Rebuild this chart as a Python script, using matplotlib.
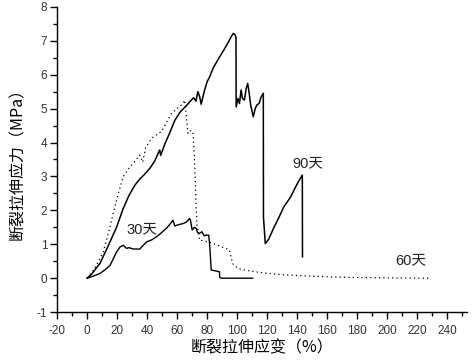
import matplotlib
matplotlib.use("Agg")
import matplotlib.pyplot as plt
from matplotlib.ticker import MultipleLocator

plt.rcParams["axes.unicode_minus"] = False

# 90 days (solid, thick)
d90_x = [0, 3, 8.6, 14, 19.7, 24, 28, 31.8, 35, 38, 41.8, 45, 47.5, 48.4, 49, 52, 55, 58.4, 62, 66, 69.4,
         71, 72.5, 73.8, 75, 76, 78, 80, 81.6, 84, 86, 88.2, 91, 94, 96, 97.5, 98.5, 99.2, 99.3, 100.5,
         101.5, 102.6, 103.5, 104.8, 106, 107, 108, 109, 110.7, 112, 113, 114.7, 116, 117.4, 117.5,
         118.7, 121, 124, 128, 131, 135.7, 139, 141.5, 143.4, 143.5]
d90_y = [0, 0.12, 0.44, 0.95, 1.51, 2.05, 2.45, 2.74, 2.92, 3.05, 3.24, 3.45, 3.7, 3.78, 3.62, 3.98, 4.28,
         4.65, 4.9, 5.08, 5.25, 5.32, 5.22, 5.5, 5.35, 5.13, 5.5, 5.8, 5.93, 6.2, 6.35, 6.52, 6.72, 6.95,
         7.12, 7.22, 7.18, 7.1, 5.05, 5.3, 5.15, 5.55, 5.3, 5.25, 5.6, 5.74, 5.45, 5.1, 4.76, 5.0, 5.1,
         5.16, 5.35, 5.45, 1.81, 1.02, 1.15, 1.45, 1.81, 2.1, 2.4, 2.7, 2.9, 3.04, 0.63]

# 30 days (solid)
d30_x = [0, 4, 8.6, 12, 15.3, 19.7, 21.9, 24, 26.3, 28, 30.7, 33, 35.1, 37, 39.6, 43, 46.2, 49, 52.8, 55,
         57.2, 58.4, 61, 63.9, 66, 68.3, 69, 70, 71.5, 72.7, 73.5, 74.9, 76.5, 78, 79.4, 81, 81.6, 82.7,
         85, 88.2, 88.3, 89.3, 110.3]
d30_y = [0, 0.06, 0.14, 0.25, 0.38, 0.78, 0.92, 0.97, 0.88, 0.9, 0.86, 0.86, 0.86, 0.95, 1.07, 1.13, 1.22,
         1.32, 1.47, 1.58, 1.71, 1.54, 1.58, 1.61, 1.65, 1.76, 1.68, 1.42, 1.5, 1.47, 1.35, 1.32, 1.37,
         1.25, 1.27, 1.27, 1.02, 0.24, 0.22, 0.19, 0.03, 0.0, 0.0]

# 60 days (dotted)
d60_x = [0, 5, 10.8, 14, 17.4, 20.5, 24, 28, 31, 35.1, 37, 39, 42.9, 46, 49.5, 53, 56.2, 60, 63.9, 65,
         66.1, 67.2, 68.5, 70.5, 71.6, 72.7, 73.1, 74.9, 78, 82, 87.1, 91, 94.8, 97, 100.3, 104, 108,
         115, 128, 140, 161, 180, 200, 227.5]
d60_y = [0, 0.28, 0.78, 1.3, 1.91, 2.45, 2.99, 3.25, 3.4, 3.63, 3.42, 3.85, 4.12, 4.22, 4.32, 4.6, 4.86,
         5.0, 5.15, 5.25, 4.76, 4.27, 4.35, 4.32, 3.48, 2.06, 1.61, 1.12, 1.1, 1.05, 0.97, 0.9, 0.83,
         0.43, 0.29, 0.25, 0.22, 0.17, 0.11, 0.08, 0.04, 0.02, 0.01, 0.0]

labels = ["30天", "60天", "90天"]
label_pos = [(36.5, 1.45), (215.5, 0.53), (147, 3.4)]

xlabel = "断裂拉伸应变（%）"
ylabel = "断裂拉伸应力（MPa）"

cjk = ["Noto Sans CJK SC", "DejaVu Sans"]
num = ["Liberation Sans", "Noto Sans CJK SC"]

fig = plt.figure(figsize=(4.72, 3.6), dpi=100)
ax = fig.add_axes([0.121, 0.133, 0.868, 0.848])

ax.plot(d90_x, d90_y, color="black", lw=1.1)
ax.plot(d30_x, d30_y, color="black", lw=1.0)
ax.plot(d60_x, d60_y, color="black", lw=0.9, linestyle=(0, (1, 2.5)))

for t, (x, y) in zip(labels, label_pos):
    ax.text(x, y, t, ha="center", va="center", fontsize=10.5, family=num, color="#222222")

ax.set_xlim(-20, 253)
ax.set_ylim(-1, 8)
ax.xaxis.set_major_locator(MultipleLocator(20))
ax.xaxis.set_minor_locator(MultipleLocator(10))
ax.yaxis.set_major_locator(MultipleLocator(1))
ax.yaxis.set_minor_locator(MultipleLocator(0.5))
ax.spines["top"].set_visible(False)
ax.spines["right"].set_visible(False)
for s in ("left", "bottom"):
    ax.spines[s].set_linewidth(1.0)
ax.tick_params(which="major", direction="out", length=5, width=1.0, labelsize=8.5, labelcolor="#333333")
ax.tick_params(which="minor", direction="out", length=3, width=1.0)
ax.tick_params(axis="x", pad=4)
ax.tick_params(axis="y", pad=2)
for lab in ax.get_xticklabels() + ax.get_yticklabels():
    lab.set_family(num)

ax.set_xlabel(xlabel, fontsize=11.5, family=cjk, labelpad=2)
ax.set_ylabel(ylabel, fontsize=11.5, family=cjk, labelpad=8)

fig.savefig("out.png", dpi=100, facecolor="white")
